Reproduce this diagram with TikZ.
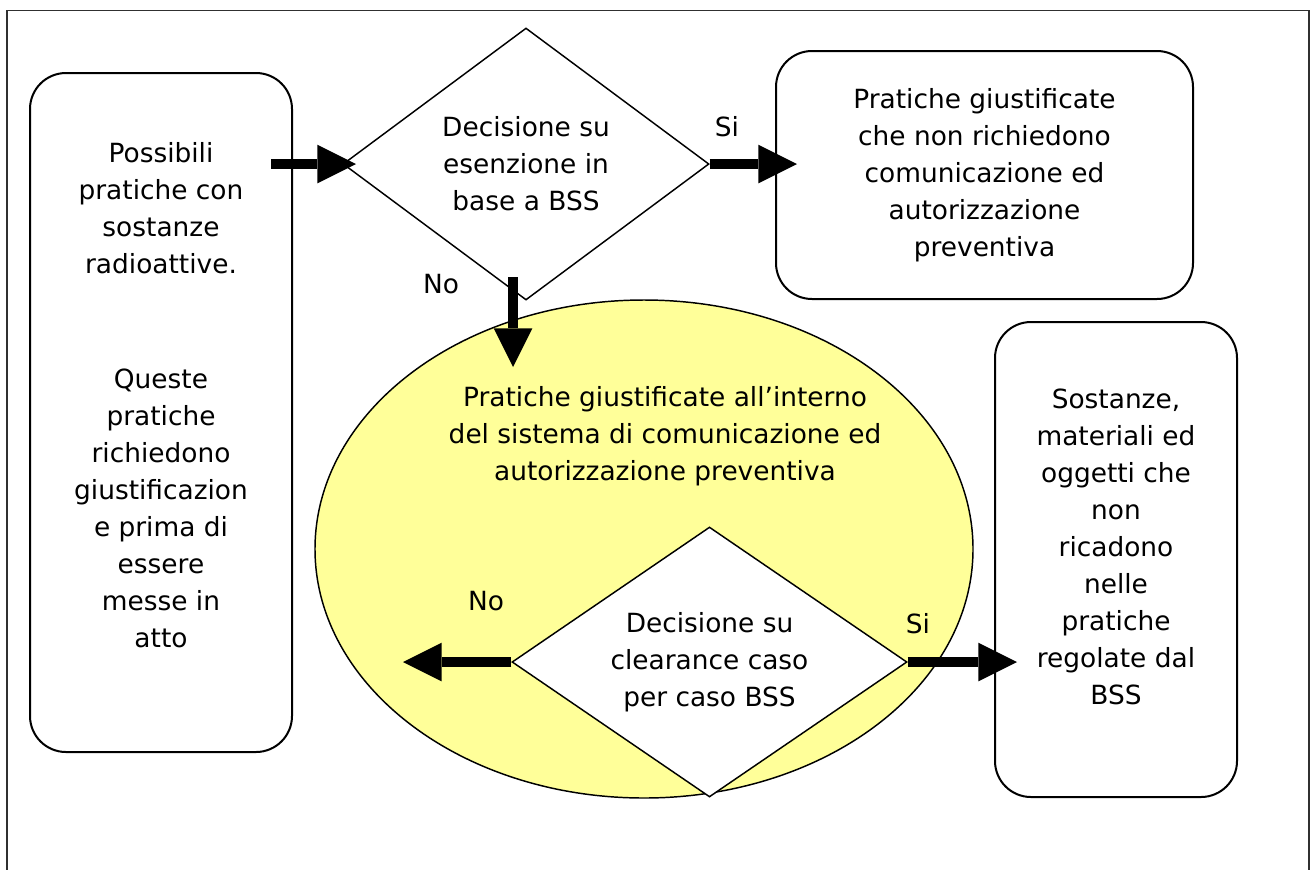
\documentclass[tikz,border=0pt]{standalone}
\usepackage{fontspec}
\setmainfont{DejaVu Sans}
\usetikzlibrary{arrows.meta,shapes.geometric}
\definecolor{framegray}{HTML}{303030}
\definecolor{bubble}{HTML}{FFFF99}
\newcommand{\flowfont}{\fontsize{19.8}{27.75}\selectfont}

\begin{document}
\begin{tikzpicture}[x=0.75pt, y=-0.75pt,
  box/.style={draw, line width=1.5pt, rounded corners=27pt, inner sep=0pt, align=center, font=\flowfont},
  txt/.style={inner sep=0pt, align=center, font=\flowfont},
  choice/.style={draw, diamond, aspect=1.4, line width=1.1pt, fill=white, inner sep=0pt, align=center, font=\flowfont},
  flow/.style={line width=7pt, -{Triangle[length=29pt, width=29pt, line width=0pt]}},
  lbl/.style={inner sep=0pt, font=\flowfont}]
  \useasboundingbox (0,0) rectangle (1310,869);
  \draw[line width=1.1pt, framegray] (7,10.5) rectangle (1309,900);

  % boxes
  \node[box, minimum width=196.5pt, minimum height=509.25pt] (start) at (161,412.5) {};
  \node[txt] (starttxt) at (161,395) {Possibili\\pratiche con\\sostanze\\radioattive.\\[59pt]Queste\\pratiche\\richiedono\\giustificazion\\e prima di\\essere\\messe in\\atto};
  \node[box, minimum width=312.75pt, minimum height=186pt] (exempt) at (984.5,175) {Pratiche giustificate\\che non richiedono\\comunicazione ed\\autorizzazione\\preventiva};
  \node[box, minimum width=181.5pt, minimum height=356.25pt] (cleared) at (1116,559.5) {};
  \node[txt] (clearedtxt) at (1116,547) {Sostanze,\\materiali ed\\oggetti che\\non\\ricadono\\nelle\\pratiche\\regolate dal\\BSS};

  % yellow region
  \node[draw, ellipse, line width=1.1pt, fill=bubble, inner sep=0pt, minimum width=493.5pt, minimum height=373.5pt] (system) at (644,549) {};
  \node[txt] (systemtxt) at (665,436) {Pratiche giustificate all’interno\\del sistema di comunicazione ed\\autorizzazione preventiva};

  % decisions
  \node[choice, minimum width=274.5pt, minimum height=204pt] (dec1) at (526,164) {Decisione su\\esenzione in\\base a BSS};
  \node[choice, minimum width=296.25pt, minimum height=202.5pt] (dec2) at (709.5,662) {Decisione su\\clearance caso\\per caso BSS};

  % arrow ends
  \coordinate (in1) at (271,164);
  \coordinate (in2) at (356,164);
  \coordinate (si1) at (797,164);
  \coordinate (no1a) at (513,277);
  \coordinate (no1b) at (513,367);
  \coordinate (no2) at (403,662);
  \coordinate (si2) at (1017,662);

  \draw[flow] (in1) -- (in2);
  \draw[flow] (dec1.east) -- (si1);
  \draw[flow] (no1a) -- (no1b);
  \draw[flow] (dec2.west) -- (no2);
  \draw[flow] (dec2.east) -- (si2);

  \node[lbl] (silbl1) at (727,127) {Si};
  \node[lbl] (nolbl1) at (441,284) {No};
  \node[lbl] (nolbl2) at (486,601) {No};
  \node[lbl] (silbl2) at (918,624) {Si};
\end{tikzpicture}
\end{document}
